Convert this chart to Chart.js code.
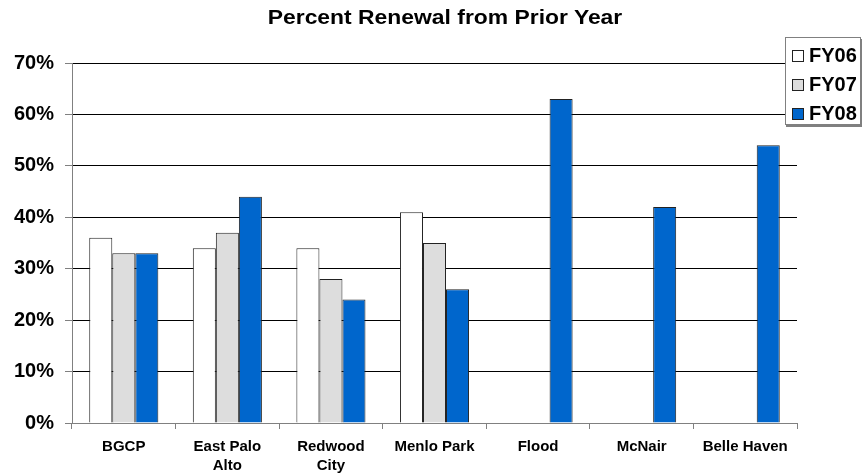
<!DOCTYPE html>
<html>
<head>
<meta charset="utf-8">
<title>Percent Renewal from Prior Year</title>
<script src="https://cdn.jsdelivr.net/npm/chart.js@4/dist/chart.umd.min.js"></script>
<style>
  body { margin: 0; background: #fff; font-family: "Liberation Sans", Arial, sans-serif; }
  #wrap { position: relative; width: 863px; height: 474px; }
  #title {
    position: absolute; left: 245px; width: 400px; top: 6px; line-height: 21px;
    text-align: center; font-weight: bold; font-size: 21px; color: #000;
    transform: scaleX(1.09); transform-origin: center;
  }
  #legend {
    position: absolute; left: 785px; top: 37px; width: 76px; height: 88px;
    border: 1px solid #808080; box-shadow: 1px 2px 0 #808080; background: #fff;
    box-sizing: border-box; padding-top: 3px;
  }
  .item { display: flex; align-items: center; height: 29px; font-weight: bold; font-size: 20px; color: #000; }
  .swatch { width: 10px; height: 10px; border: 1px solid #222; margin: 0 5px 0 6px; }
</style>
</head>
<body>
<div id="wrap">
  <canvas id="renewalChart"></canvas>
  <div id="title">Percent Renewal from Prior Year</div>
  <div id="legend"></div>
</div>
<script>
const categories = ['BGCP', ['East Palo', 'Alto'], ['Redwood', 'City'], 'Menlo Park', 'Flood', 'McNair', 'Belle Haven'];
const fy06 = [36, 34, 34, 41, null, null, null];
const fy07 = [33, 37, 28, 35, null, null, null];
const fy08 = [33, 44, 24, 26, 63, 42, 54];
const seriesLabels = ['FY06', 'FY07', 'FY08'];
const seriesColors = ['#ffffff', '#dddddd', '#0066cc'];

const fontFamily = '"Liberation Sans", Arial, sans-serif';

const datasets = [fy06, fy07, fy08].map((values, i) => ({
  label: seriesLabels[i],
  data: values,
  backgroundColor: seriesColors[i],
  borderColor: '#222',
  borderWidth: 1,
  borderSkipped: 'bottom',
  categoryPercentage: 0.667,
  barPercentage: 1.0
}));

new Chart(document.getElementById('renewalChart'), {
  type: 'bar',
  data: { labels: categories, datasets },
  options: {
    responsive: true,
    maintainAspectRatio: false,
    animation: false,
    layout: { padding: { left: 0, right: 66, top: 63, bottom: 0 } },
    plugins: {
      legend: { display: false },
      tooltip: { enabled: false },
      title: { display: false }
    },
    scales: {
      x: {
        grid: { drawOnChartArea: false, drawTicks: true, tickLength: 6, color: '#808080' },
        border: { color: '#808080', width: 1 },
        ticks: {
          color: '#000',
          maxRotation: 0,
          autoSkip: false,
          padding: 8,
          font: { family: fontFamily, size: 15, weight: 'bold', lineHeight: 1.27 }
        },
        afterFit: scale => { scale.height = 51; }
      },
      y: {
        min: 0,
        max: 70,
        grid: {
          color: ctx => (ctx.tick && ctx.tick.value === 0 ? 'rgba(0,0,0,0)' : '#000'),
          tickColor: '#808080',
          tickLength: 7
        },
        border: { color: '#808080', width: 1 },
        ticks: {
          stepSize: 10,
          color: '#000',
          padding: 11,
          font: { family: fontFamily, size: 20, weight: 'bold' },
          callback: v => v + '%'
        },
        afterFit: scale => { scale.width = 72; }
      }
    }
  }
});

// legend built from the series definitions
const legend = document.getElementById('legend');
seriesLabels.forEach((label, i) => {
  const item = document.createElement('div');
  item.className = 'item';
  const sw = document.createElement('span');
  sw.className = 'swatch';
  sw.style.background = seriesColors[i];
  item.appendChild(sw);
  item.appendChild(document.createTextNode(label));
  legend.appendChild(item);
});
</script>
</body>
</html>
